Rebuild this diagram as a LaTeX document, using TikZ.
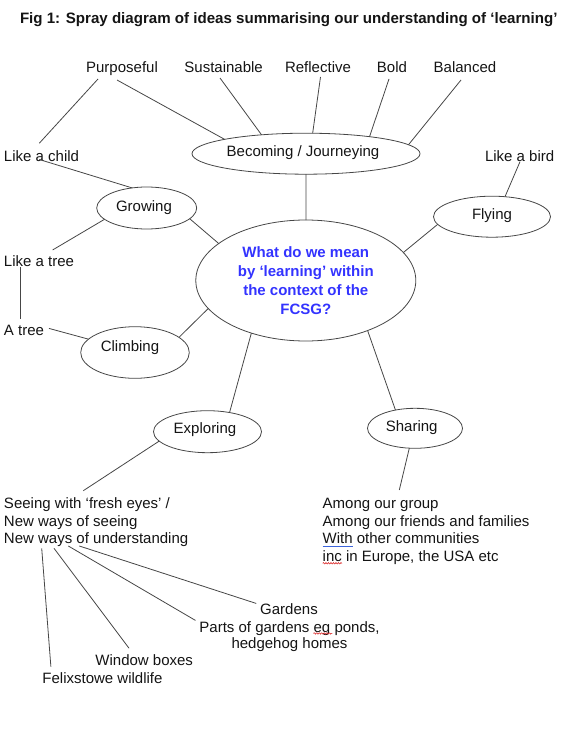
\documentclass[tikz,border=0pt]{standalone}
\usepackage{fontspec}
\setmainfont{Liberation Sans}
\usetikzlibrary{shapes.geometric,calc,decorations.pathmorphing}
\definecolor{qblue}{RGB}{51,51,255}
\definecolor{lnc}{RGB}{70,70,70}
\definecolor{spellred}{RGB}{220,40,40}
\definecolor{spellblue}{RGB}{60,100,220}
\begin{document}
\begin{tikzpicture}[x=1pt,y=-1pt,
  every node/.style={inner sep=0pt, outer sep=0pt},
  lbl/.style={font=\fontsize{15}{17.5}\selectfont, text=black!92},
  oval/.style={draw=lnc, line width=0.8pt, ellipse},
  conn/.style={draw=lnc, line width=0.8pt},
  wavy/.style={draw=spellred, line width=0.6pt, decorate, decoration={snake, amplitude=0.7pt, segment length=2.5pt}},
]
\useasboundingbox (0,0) rectangle (570,730);

% title
\node[lbl, font=\fontsize{15.1}{17.5}\selectfont\bfseries, anchor=base west] (title) at (20,24)
  {Fig 1: Spray diagram of ideas summarising our understanding of ‘learning’};

% top labels
\node[lbl, anchor=base] (purp) at (122,72.5) {Purposeful};
\node[lbl, anchor=base] (sust) at (223.6,72.5) {Sustainable};
\node[lbl, anchor=base] (refl) at (318,72.5) {Reflective};
\node[lbl, anchor=base] (bold) at (392,72.5) {Bold};
\node[lbl, anchor=base] (bal) at (465,72.5) {Balanced};

% ellipses
\node[oval, minimum width=228pt, minimum height=41pt,
  label={[lbl,name=becoT,xshift=-3pt,yshift=1.5pt]center:Becoming / Journeying}] (beco) at (306,153.7) {};
\node[oval, minimum width=100pt, minimum height=42pt,
  label={[lbl,name=growT,xshift=-2.7pt,yshift=0.5pt]center:Growing}] (grow) at (146.7,208) {};
\node[oval, minimum width=117pt, minimum height=41pt,
  label={[lbl,name=flyT,yshift=0.9pt]center:Flying}] (fly) at (492,216.7) {};
\node[oval, minimum width=220pt, minimum height=121pt, align=center, text=qblue,
  font=\fontsize{15}{19}\selectfont\bfseries] (cen) at (305.8,280.5)
  {What do we mean\\by ‘learning’ within\\the context of the\\FCSG?};
\node[oval, minimum width=108.6pt, minimum height=51.6pt,
  label={[lbl,name=climbT,xshift=-5pt,yshift=4.5pt]center:Climbing}] (climb) at (135,352.5) {};
\node[oval, minimum width=108pt, minimum height=42pt,
  label={[lbl,name=explT,xshift=-2.5pt,yshift=1.9pt]center:Exploring}] (expl) at (207.5,431.7) {};
\node[oval, minimum width=95pt, minimum height=40pt,
  label={[lbl,name=sharT,xshift=-3.3pt,yshift=0.3pt]center:Sharing}] (shar) at (415,428.3) {};

% text labels
\node[lbl, anchor=base west] (child) at (4,161) {Like a child};
\node[lbl, anchor=base west] (bird) at (485,161) {Like a bird};
\node[lbl, anchor=base west] (tree) at (4,266.5) {Like a tree};
\node[lbl, anchor=base west] (atree) at (4,335.5) {A tree};
\node[lbl, anchor=north west, align=left] (seeing) at (4,498)
  {Seeing with ‘fresh eyes’ /\\New ways of seeing\\New ways of understanding};
\node[lbl, anchor=north west, align=left] (among) at (322.7,498.5)
  {Among our group\\Among our friends and families\\With other communities\\inc in Europe, the USA etc};
\node[lbl, anchor=base] (gard) at (289,614) {Gardens};
\node[lbl, anchor=north, align=center, font=\fontsize{15}{16.6}\selectfont] (parts) at (289.5,621.5)
  {Parts of gardens eg ponds,\\hedgehog homes};
\node[lbl, anchor=base] (window) at (144.2,665) {Window boxes};
\node[lbl, anchor=base] (felix) at (102.5,683.5) {Felixstowe wildlife};

% connectors
\draw[conn] ($(purp.base)+(-24,6.5)$) -- ($(child.north west)+(35.3,-6.9)$);
\draw[conn] ($(purp.base)+(-5,7.5)$) -- (beco.170);
\draw[conn] ($(sust.base)+(-3.6,5.5)$) -- (beco.157);
\draw[conn] ($(refl.base)+(2.5,4.5)$) -- (beco.72);
\draw[conn] ($(bold.base)+(-3,6.5)$) -- (beco.15);
\draw[conn] ($(bal.base)+(-4,7.5)$) -- (beco.5.4);
\draw[conn] ($(child.base west)+(35.3,-1.5)$) -- (grow.126);
\draw[conn] (grow.-14.5) -- (cen.157.2);
\draw[conn] (grow.195.5) -- ($(tree.north west)+(48.7,-5.7)$);
\draw[conn] ($(tree.base west)+(16.7,0.5)$) -- ($(atree.north west)+(16.7,-6)$);
\draw[conn] ($(atree.east)+(5,-2)$) -- (climb.164.2);
\draw[conn] (climb.19.8) -- (cen.196);
\draw[conn] (beco) -- (cen);
\draw[conn] (cen.16) -- (fly.188.6);
\draw[conn] (fly.57) -- ($(bird.base west)+(35,0.7)$);
\draw[conn] (cen.224.3) -- (expl.41.9);
\draw[conn] (cen.321.5) -- (shar.137.9);
\draw[conn] (expl.191.9) -- ($(seeing.north west)+(79.3,-7.3)$);
\draw[conn] (shar.254) -- ($(among.north west)+(76.6,-8.5)$);
\draw[conn] ($(seeing.south west)+(37.7,1.3)$) -- ($(felix.north west)+(8.4,-6)$);
\draw[conn] ($(seeing.south west)+(50,1.3)$) -- ($(window.north west)+(33.6,-5.9)$);
\draw[conn] ($(seeing.south west)+(64.3,-1)$) -- ($(parts.north west)+(-4,-1.1)$);
\draw[conn] ($(seeing.south west)+(75.3,-1)$) -- ($(gard.west)+(-4,-5.2)$);

% spell-check marks
\draw[draw=spellblue, line width=0.7pt] ($(among.north west)+(0,48)$) -- ++(30,0);
\draw[wavy] ($(among.north west)+(0,64.8)$) -- ++(19.4,0);
\draw[wavy] ($(parts.north west)+(114,11.9)$) -- ++(19,0);
\end{tikzpicture}
\end{document}
